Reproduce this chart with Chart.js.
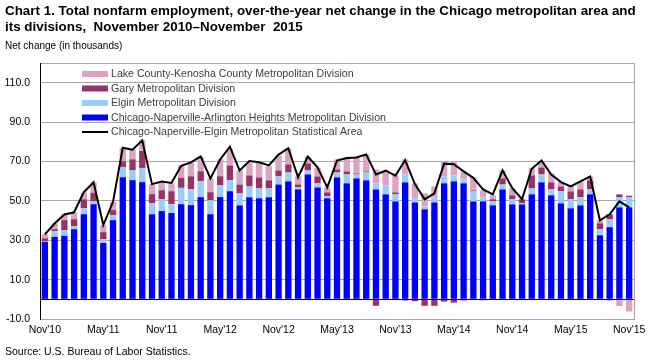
<!DOCTYPE html>
<html>
<head>
<meta charset="utf-8">
<script src="https://cdn.jsdelivr.net/npm/chart.js@4.4.1/dist/chart.umd.min.js"></script>
<style>
  body { margin: 0; background: #fff; font-family: "Liberation Sans", Arial, sans-serif; }
  #wrap { position: relative; width: 654px; height: 361px; overflow: hidden; }
  #title { position: absolute; left: 5px; top: 3px; font-weight: bold; font-size: 13.4px; line-height: 16px; color: #000; white-space: pre; }
  #unit { position: absolute; left: 5px; top: 40px; font-size: 10px; color: #000; }
  #source { position: absolute; left: 5px; top: 345px; font-size: 10.5px; color: #000; }
  #chartBox { position: absolute; left: 0; top: 0; width: 654px; height: 361px; }
</style>
</head>
<body>
<div id="wrap">
  <div id="chartBox"><canvas id="chart"></canvas></div>
  <div id="title">Chart 1. Total nonfarm employment, over-the-year net change in the Chicago metropolitan area and
its divisions,  November 2010–November  2015</div>
  <div id="unit">Net change (in thousands)</div>
  <div id="source">Source: U.S. Bureau of Labor Statistics.</div>
</div>
<script>
const months = [
  "Nov'10","Dec'10","Jan'11","Feb'11","Mar'11","Apr'11","May'11","Jun'11","Jul'11","Aug'11","Sep'11","Oct'11",
  "Nov'11","Dec'11","Jan'12","Feb'12","Mar'12","Apr'12","May'12","Jun'12","Jul'12","Aug'12","Sep'12","Oct'12",
  "Nov'12","Dec'12","Jan'13","Feb'13","Mar'13","Apr'13","May'13","Jun'13","Jul'13","Aug'13","Sep'13","Oct'13",
  "Nov'13","Dec'13","Jan'14","Feb'14","Mar'14","Apr'14","May'14","Jun'14","Jul'14","Aug'14","Sep'14","Oct'14",
  "Nov'14","Dec'14","Jan'15","Feb'15","Mar'15","Apr'15","May'15","Jun'15","Jul'15","Aug'15","Sep'15","Oct'15",
  "Nov'15"
];

// Chicago-Naperville-Arlington Heights Metropolitan Division
const chicagoDiv = [
  29.2, 31.7, 32.2, 35.6, 43.2, 48.3, 28.6, 40.2, 62.0, 60.5, 59.5, 43.2,
  44.8, 43.8, 48.3, 47.8, 51.9, 43.2, 51.9, 54.9, 47.7, 51.8, 51.3, 51.8,
  58.3, 59.9, 55.8, 63.4, 56.8, 51.3, 61.9, 58.9, 61.4, 60.4, 55.8, 53.3,
  49.7, 59.4, 49.2, 45.7, 49.2, 58.9, 59.9, 58.9, 49.7, 49.7, 47.7, 55.8,
  48.2, 48.2, 53.3, 59.4, 52.8, 48.7, 46.2, 47.7, 53.3, 32.5, 36.6, 46.7,
  46.7
];
// Elgin Metropolitan Division
const elginDiv = [
  0.4, 2.9, 2.9, 1.6, 3.1, 1.5, 2.0, 2.5, 5.1, 5.0, 7.2, 5.6,
  6.0, 4.5, 8.3, 8.1, 8.1, 7.1, 6.0, 5.5, 6.1, 5.5, 5.0, 4.5,
  4.1, 4.5, 1.0, 2.0, 2.1, 1.0, 2.5, 4.5, 2.0, 4.0, 3.1, 4.5,
  3.6, 4.0, 2.1, 1.5, 2.6, 3.5, 3.0, 2.0, 5.1, 2.1, 2.0, 2.5,
  2.6, 0.5, 3.0, 4.0, 3.0, 6.1, 4.6, 4.1, 2.5, 3.1, 4.0, 5.1,
  5.1
];
// Gary Metropolitan Division
const garyDiv = [
  1.4, 1.0, 5.1, 3.5, 4.5, 4.3, 3.5, 2.6, 3.0, 5.6, 8.6, 4.6,
  4.6, 6.6, 5.1, 6.6, 5.0, 4.1, 4.6, 7.6, 4.5, 5.6, 5.6, 4.1,
  3.0, 4.1, 1.5, 3.6, 3.5, 2.0, 1.5, 1.5, 0.5, 0.5, -3.3, 0.0,
  1.0, -0.6, -1.0, -3.3, -3.3, -1.2, -1.7, -0.6, 0.5, -0.5, 1.1, 3.1,
  2.0, 2.1, 6.6, 3.5, 3.6, 2.5, 4.0, 4.0, 4.6, 3.0, 2.6, 1.5,
  0.8
];
// Lake County-Kenosha County Metropolitan Division
const lakeDiv = [
  2.1, 2.9, 2.9, 3.3, 3.4, 5.1, 3.6, 4.2, 6.9, 5.1, 5.4, 5.0,
  4.0, 4.0, 6.4, 6.8, 7.3, 7.1, 8.6, 8.5, 7.1, 6.4, 7.4, 7.2,
  7.6, 8.1, 4.1, 3.5, 4.5, 2.5, 5.1, 6.8, 8.1, 8.6, 7.0, 6.6,
  8.6, 7.6, 7.6, 6.6, 5.5, 7.6, 7.1, 4.0, 6.6, 3.5, 2.0, 4.0,
  3.5, -0.5, 3.7, 3.1, 4.5, 2.2, 2.5, 4.1, 2.0, 1.5, -0.7, -3.4,
  -6.2
];
// Chicago-Naperville-Elgin Metropolitan Statistical Area
const msaTotal = [
  33.0, 38.5, 43.1, 44.2, 54.4, 59.4, 37.7, 49.5, 77.0, 76.0, 80.7, 58.5,
  59.8, 59.1, 67.8, 69.5, 72.6, 61.4, 71.0, 77.5, 65.4, 70.2, 69.6, 68.0,
  73.5, 76.7, 62.0, 72.5, 67.0, 56.8, 70.5, 71.7, 72.0, 73.6, 63.4, 65.3,
  62.8, 70.7, 58.5, 50.8, 53.8, 68.9, 68.6, 65.0, 61.7, 55.8, 53.3, 65.5,
  56.4, 50.8, 66.3, 70.5, 63.4, 59.5, 57.3, 59.9, 62.4, 40.1, 43.2, 49.7,
  46.7
];
const yTickLabels = [-10, 10, 30, 50, 70, 90, 110];

const frame = {
  id: 'frame',
  beforeDatasetsDraw(chart) {
    const { ctx, chartArea: a } = chart;
    ctx.save();
    ctx.strokeStyle = '#a6a6a6';
    ctx.lineWidth = 1;
    ctx.beginPath();
    ctx.moveTo(a.right + 0.5, a.top);
    ctx.lineTo(a.right + 0.5, a.bottom);
    ctx.stroke();
    ctx.restore();
  },
  afterDatasetsDraw(chart) {
    const { ctx, chartArea: a, scales } = chart;
    const y0 = Math.round(scales.y.getPixelForValue(0)) + 0.5;
    ctx.save();
    ctx.strokeStyle = '#000';
    ctx.lineWidth = 1;
    ctx.beginPath();
    ctx.moveTo(a.left, y0);
    ctx.lineTo(a.right, y0);
    ctx.stroke();

    // legend, one item per row, inside the plot
    const order = [3, 2, 1, 0, 4];
    ctx.font = '10.6px "Liberation Sans", Arial, sans-serif';
    ctx.textBaseline = 'middle';
    order.forEach((di, r) => {
      const ds = chart.data.datasets[di];
      const y = a.top + 11 + r * 14.5;
      if (ds.type === 'line') {
        ctx.strokeStyle = '#000';
        ctx.lineWidth = 2;
        ctx.beginPath();
        ctx.moveTo(82, y);
        ctx.lineTo(108, y);
        ctx.stroke();
      } else {
        ctx.fillStyle = ds.backgroundColor;
        ctx.fillRect(82, y - 3, 26, 6);
      }
      ctx.fillStyle = '#404040';
      ctx.fillText(ds.label, 111, y + 0.5);
    });
    ctx.restore();
  }
};

const ctx = document.getElementById('chart').getContext('2d');
const chart = new Chart(ctx, {
  type: 'bar',
  data: {
    labels: months,
    datasets: [
      { label: 'Chicago-Naperville-Arlington Heights Metropolitan Division', data: chicagoDiv, backgroundColor: '#0000ff', order: 1 },
      { label: 'Elgin Metropolitan Division', data: elginDiv, backgroundColor: '#99ccff', order: 1 },
      { label: 'Gary Metropolitan Division', data: garyDiv, backgroundColor: '#993366', order: 1 },
      { label: 'Lake County-Kenosha County Metropolitan Division', data: lakeDiv, backgroundColor: '#dda3c3', order: 1 },
      { type: 'line', label: 'Chicago-Naperville-Elgin Metropolitan Statistical Area', data: msaTotal,
        borderColor: '#000', borderWidth: 2, pointRadius: 0, tension: 0, fill: false, stack: 'total', order: 0 }
    ]
  },
  options: {
    responsive: true,
    maintainAspectRatio: false,
    animation: false,
    datasets: { bar: { categoryPercentage: 1, barPercentage: 0.65 } },
    layout: { padding: { top: 63, right: 20, bottom: 22, left: 0 } },
    plugins: {
      legend: { display: false },
      tooltip: { enabled: false }
    },
    scales: {
      x: {
        stacked: true,
        grid: { display: false, drawTicks: false },
        border: { color: '#a6a6a6' },
        ticks: {
          autoSkip: false,
          maxRotation: 0,
          padding: 5,
          color: '#000',
          font: { size: 10.5, family: '"Liberation Sans", Arial, sans-serif' },
          callback: function(value, index) {
            return index % 6 === 0 ? months[index] : '';
          }
        },
        afterFit: function(scale) { scale.height = 20; }
      },
      y: {
        stacked: true,
        min: -10,
        max: 120,
        afterBuildTicks: function(scale) {
          scale.ticks = [-10, 0, 10, 30, 50, 70, 90, 110, 120].map(v => ({ value: v }));
        },
        grid: {
          drawTicks: false,
          color: c => (c.tick && c.tick.value === 0) ? '#000' : '#a6a6a6'
        },
        border: { color: '#000' },
        ticks: {
          padding: 10,
          color: '#000',
          font: { size: 10.5, family: '"Liberation Sans", Arial, sans-serif' },
          callback: function(value) {
            return yTickLabels.includes(value) ? value.toFixed(1) : '';
          }
        },
        afterFit: function(scale) { scale.width = 40; }
      }
    }
  },
  plugins: [frame]
});
</script>
</body>
</html>
